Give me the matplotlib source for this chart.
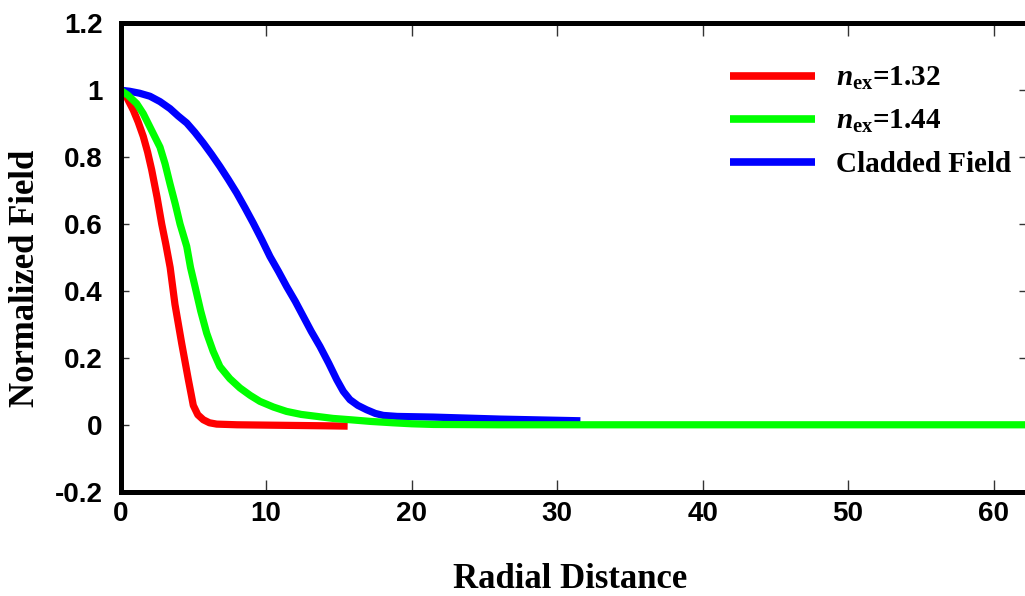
import numpy as np
import matplotlib
matplotlib.use("Agg")
import matplotlib.pyplot as plt

plt.rcParams["mathtext.fontset"] = "custom"
plt.rcParams["mathtext.rm"] = "Liberation Serif:bold"
plt.rcParams["mathtext.it"] = "Liberation Serif:italic:bold"

# ---- data ----
x_132 = [0, 0.4, 0.87, 1.2, 1.55, 1.85, 2.13, 2.5, 2.82, 3.1, 3.4, 3.73, 4.19, 4.65, 4.85, 4.99,
         5.3, 5.68, 6.1, 6.6, 8.0, 10.0, 12.0, 14.0, 15.6]
y_132 = [1.0, 0.98, 0.94, 0.905, 0.862, 0.815, 0.762, 0.68, 0.6, 0.54, 0.47, 0.36, 0.244, 0.135,
         0.09, 0.058, 0.03, 0.015, 0.006, 0.002, 0.0, -0.001, -0.002, -0.003, -0.004]

x_144 = [0, 0.5, 1.1, 1.55, 2.01, 2.7, 3.05, 3.39, 3.75, 4.08, 4.54, 4.8, 5.11, 5.5, 5.91, 6.35,
         6.82, 7.5, 8.2, 8.9, 9.57, 10.5, 11.4, 12.4, 13.5, 14.6, 15.8, 17.2, 18.7, 20.0, 21.5,
         26.0, 32.0, 40.0, 50.0, 62.5]
y_144 = [1.0, 0.985, 0.96, 0.93, 0.89, 0.83, 0.78, 0.72, 0.66, 0.60, 0.533, 0.47, 0.413, 0.34,
         0.274, 0.22, 0.174, 0.138, 0.110, 0.088, 0.070, 0.053, 0.040, 0.031, 0.025, 0.019, 0.015,
         0.010, 0.006, 0.003, 0.001, 0.0, 0.0, 0.0, 0.0, 0.0]

x_clad = [0, 0.6, 1.3, 2.01, 2.7, 3.39, 3.95, 4.54, 5.1, 5.68, 6.25, 6.82, 7.4, 7.97, 8.55, 9.11, 9.7,
          10.26, 10.85, 11.41, 12.0, 12.55, 13.1, 13.7, 14.3, 14.85, 15.3, 15.76, 16.3, 16.9, 17.5,
          18.05, 19.0, 21.5, 26.1, 31.6]
y_clad = [1.0, 0.997, 0.991, 0.982, 0.966, 0.945, 0.923, 0.902, 0.874, 0.842, 0.808, 0.772, 0.733,
          0.693, 0.648, 0.603, 0.553, 0.503, 0.458, 0.413, 0.369, 0.324, 0.279, 0.234, 0.184, 0.135,
          0.100, 0.075, 0.058, 0.045, 0.034, 0.028, 0.025, 0.023, 0.017, 0.012]

series = [
    (x_132, y_132, "#FF0000", r"$\mathit{n}_{\mathrm{ex}}$=1.32"),
    (x_144, y_144, "#00FF00", r"$\mathit{n}_{\mathrm{ex}}$=1.44"),
    (x_clad, y_clad, "#0000FF", "Cladded Field"),
]

fig = plt.figure(figsize=(10.25, 5.96), dpi=100)
W, H = 1025, 596
left, right, top, bottom = 120.7, 1027.0, 23.3, 491.7
ax = fig.add_axes([left / W, 1 - bottom / H, (right - left) / W, (bottom - top) / H])

# green drawn after blue at the tail, as in the reference
for xs, ys, c, lab in [series[0], series[2], series[1]]:
    ax.plot(xs, ys, color=c, lw=5.2, label=lab, solid_capstyle="butt", solid_joinstyle="round")

ax.set_xlim(0, 62.3)
ax.set_ylim(-0.2, 1.2)
ax.set_xticks([0, 10, 20, 30, 40, 50, 60])
ax.set_yticks([-0.2, 0, 0.2, 0.4, 0.6, 0.8, 1.0, 1.2])
ax.set_yticklabels(["-0.2", "0", "0.2", "0.4", "0.6", "0.8", "1", "1.2"])

for s in ax.spines.values():
    s.set_linewidth(3.6)

ax.tick_params(axis="both", direction="in", width=1, color="#333333")
ax.tick_params(axis="y", length=6, left=True, right=True, pad=13)
ax.tick_params(axis="x", length=9, top=True, bottom=True, pad=7)
for lbl in ax.get_xticklabels() + ax.get_yticklabels():
    lbl.set_fontfamily("Liberation Sans")
    lbl.set_fontweight("bold")
    lbl.set_fontsize(20)

ax.set_xlabel("Radial Distance", fontfamily="Liberation Serif", fontweight="bold", fontsize=25)
ax.set_ylabel("Normalized Field", fontfamily="Liberation Serif", fontweight="bold", fontsize=25)
aw, ah = right - left, bottom - top
ax.xaxis.set_label_coords((570 - left) / aw, (bottom - 580) / ah)
ax.yaxis.set_label_coords((26 - left) / aw, (bottom - 278) / ah)
ax.xaxis.label.set_va("center")
ax.yaxis.label.set_va("center")

handles, labels = ax.get_legend_handles_labels()
order = [0, 2, 1]
leg = ax.legend([handles[i] for i in order], [labels[i] for i in order],
                loc="upper left", bbox_to_anchor=(730 / W, 1 - 65 / H), bbox_transform=fig.transFigure,
                frameon=False, borderpad=0, borderaxespad=0, handlelength=2.9, handletextpad=0.75,
                labelspacing=0.55, prop={"family": "Liberation Serif", "weight": "bold", "size": 21})
for line in leg.get_lines():
    line.set_linewidth(5.5)

fig.savefig("out.png", dpi=100)
